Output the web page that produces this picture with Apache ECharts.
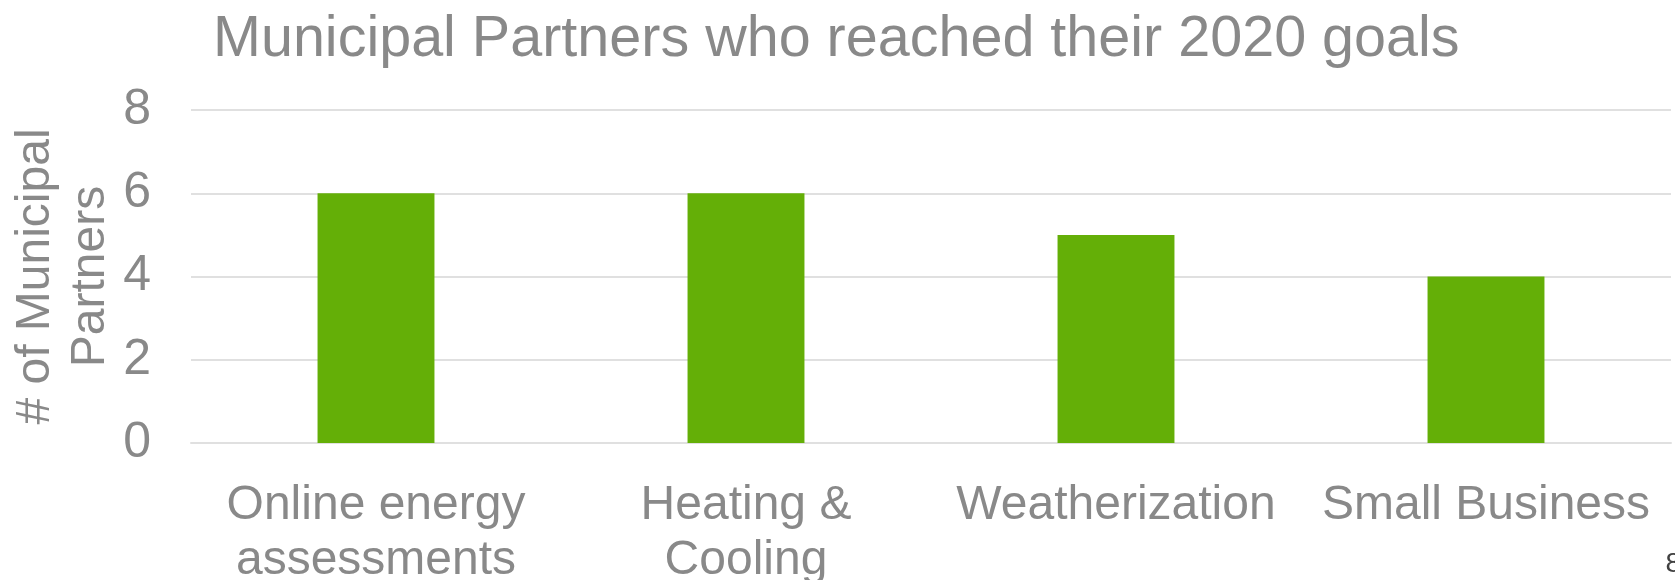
<!DOCTYPE html>
<html>
<head>
<meta charset="utf-8">
<script src="https://cdn.jsdelivr.net/npm/echarts@6/dist/echarts.min.js"></script>
<style>
html,body{margin:0;padding:0;background:#fff;}
#chart{width:1675px;height:580px;}
</style>
</head>
<body>
<div id="chart"></div>
<script>
const titleText = 'Municipal Partners who reached their 2020 goals';
const categories = ['Online energy\nassessments', 'Heating &\nCooling', 'Weatherization', 'Small Business'];
const values = [6, 6, 5, 4];
const yTicks = { min: 0, max: 8, interval: 2 };
const yAxisName = '# of Municipal\nPartners';
const pageNumber = '8';

const gray = '#898989';
const font = 'Liberation Sans, Arial, sans-serif';
const chart = echarts.init(document.getElementById('chart'));
chart.setOption({
  animation: false,
  backgroundColor: '#ffffff',
  title: {
    text: titleText,
    left: 208,
    top: 6,
    textStyle: { fontFamily: font, fontSize: 57.5, fontWeight: 'normal', color: gray }
  },
  grid: { left: 191, right: 4, top: 110, bottom: 137, outerBoundsMode: 'none', containLabel: false },
  xAxis: {
    type: 'category',
    data: categories,
    axisLine: { show: true, lineStyle: { color: '#e0e0e0', width: 2 } },
    axisTick: { show: false },
    axisLabel: { fontFamily: font, fontSize: 48, color: gray, margin: 35, lineHeight: 55, interval: 0 }
  },
  yAxis: {
    type: 'value',
    min: yTicks.min, max: yTicks.max, interval: yTicks.interval,
    name: yAxisName,
    nameLocation: 'middle',
    nameGap: 73,
    nameMoveOverlap: false,
    nameTextStyle: { fontFamily: font, fontSize: 48, color: gray, lineHeight: 55 },
    axisLine: { show: false },
    axisTick: { show: false },
    axisLabel: { fontFamily: font, fontSize: 50, color: gray, margin: 40 },
    splitLine: { lineStyle: { color: '#e0e0e0', width: 2 } }
  },
  series: [{
    type: 'bar',
    data: values,
    barWidth: '31.6%',
    itemStyle: { color: '#64AF07' }
  }],
  graphic: [{
    type: 'text',
    right: -6,
    top: 550,
    style: { text: pageNumber, font: '28px ' + font, fill: '#404040' }
  }]
});
</script>
</body>
</html>
